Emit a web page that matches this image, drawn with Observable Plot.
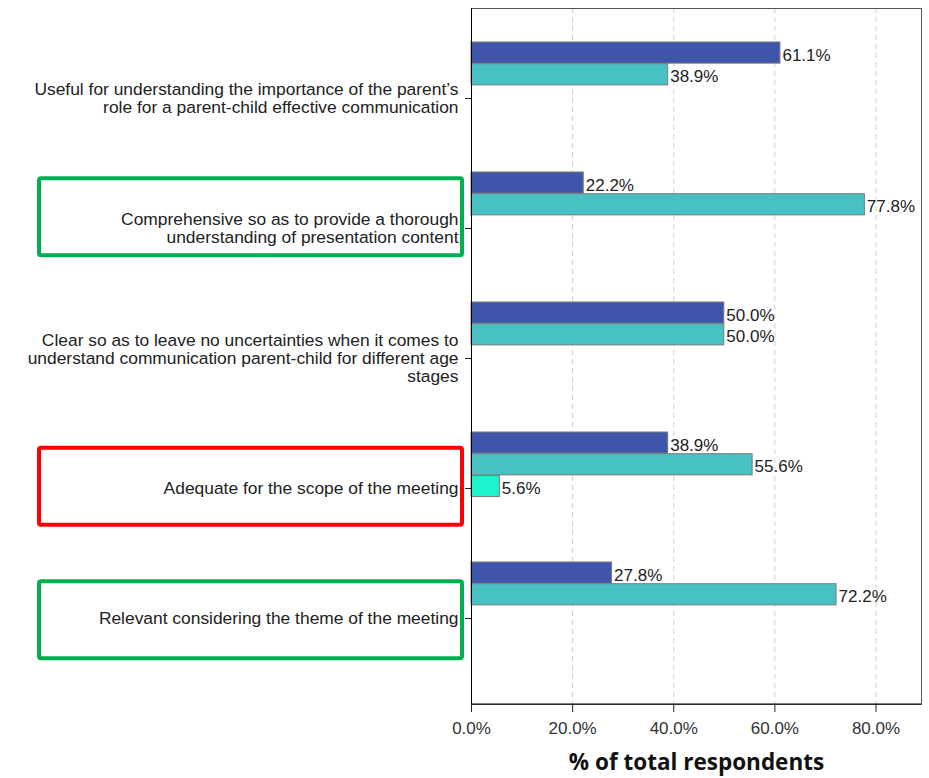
<!DOCTYPE html>
<html>
<head>
<meta charset="utf-8">
<script src="https://cdn.jsdelivr.net/npm/d3@7"></script>
<script src="https://cdn.jsdelivr.net/npm/@observablehq/plot@0.6"></script>
<style>
  html, body { margin: 0; padding: 0; background: #fff; }
  #chart svg { display: block; }
</style>
</head>
<body>
<div id="chart"></div>
<script>
// ---------- data ----------
const categories = [
  "Useful for understanding the importance of the parent’s\nrole for a parent-child effective communication",
  "Comprehensive so as to provide a thorough\nunderstanding of presentation content",
  "Clear so as to leave no uncertainties when it comes to\nunderstand communication parent-child for different age\nstages",
  "Adequate for the scope of the meeting",
  "Relevant considering the theme of the meeting"
];
const seriesNames = ["Strongly agree", "Agree", "Neither agree nor disagree", "Disagree", "Strongly disagree"];
const stronglyAgree = [61.1, 22.2, 50.0, 38.9, 27.8];
const agree         = [38.9, 77.8, 50.0, 55.6, 72.2];
const neutral       = [null, null, null, 5.6, null];
const disagree      = [null, null, null, null, null];
const stronglyDisagree = [null, null, null, null, null];
const seriesValues = [stronglyAgree, agree, neutral, disagree, stronglyDisagree];
const xTicks = [0, 20, 40, 60, 80];
const xLabel = "% of total respondents";
const highlighted = [1, 3, 4];            // category indices with annotation boxes

// ---------- style ----------
const seriesColors = ["#3e55a9", "#48c1c4", "#1cf5cb", "#888888", "#bbbbbb"];
const highlightColors = ["#00b050", "#ff0000", "#00b050"];
const highlightShift = [-9, 0, 3];
const W = 929, H = 778;
const mTop = 8, mBottom = 74, mLeft = 471, mRight = 8;
const padInner = 0.167, padOuter = 0.254;
const font = "'Liberation Sans', Arial, sans-serif";

// table built from arrays
const rows = [];
seriesValues.forEach((vals, s) => vals.forEach((v, c) => {
  if (v != null) rows.push({category: categories[c], series: seriesNames[s], sIndex: s, value: v});
}));

// band geometry replicating Plot's y scale
const yBand = d3.scaleBand().domain(categories).range([mTop, H - mBottom])
  .paddingInner(padInner).paddingOuter(padOuter).align(0.5);
const slot = yBand.bandwidth() / seriesNames.length;

const barMarks = [];
seriesNames.forEach((name, k) => {
  const data = rows.filter(d => d.sIndex === k);
  if (!data.length) return;
  barMarks.push(Plot.barX(data, {
    x: "value", y: "category",
    fill: seriesColors[k], stroke: "#7a7a7a", strokeWidth: 1,
    insetTop: k * slot, insetBottom: (seriesNames.length - 1 - k) * slot
  }));
  barMarks.push(Plot.text(data, {
    x: "value", y: "category",
    text: d => d.value.toFixed(1) + "%",
    textAnchor: "start", dx: 2,
    dy: -yBand.bandwidth() / 2 + (k + 0.5) * slot + 2,
    fill: "#222", fontSize: 17
  }));
});

const plot = Plot.plot({
  width: W, height: H,
  marginTop: mTop, marginBottom: mBottom, marginLeft: mLeft, marginRight: mRight,
  style: {fontFamily: font, fontSize: "17px", color: "#222", background: "#fff"},
  x: {domain: [0, 89]},
  y: {domain: categories, paddingInner: padInner, paddingOuter: padOuter, align: 0.5},
  marks: [
    Plot.ruleX(xTicks.slice(1), {stroke: "#cfcfcf", strokeDasharray: "5,4"}),
    ...barMarks,
    Plot.frame({stroke: "#555"}),
    Plot.ruleX([0], {stroke: "#000"}),
    Plot.axisY({tickSize: 6, tickPadding: 7, label: null, fontSize: 17.4, lineHeight: 1.04, dy: 2, fill: "#222"}),
    Plot.axisX({ticks: xTicks, tickFormat: d => d.toFixed(1) + "%", tickSize: 8, tickPadding: 9, label: null, fontSize: 17, fill: "#333"}),
    Plot.text([xLabel], {frameAnchor: "bottom", dy: 65, fontSize: 22.5, fontWeight: "bold",
      fontFamily: "'Open Sans', 'Noto Sans', sans-serif", fill: "#111"})
  ]
});

// bottom axis line in black
const svg = d3.select(plot);
svg.append("line").attr("x1", mLeft).attr("x2", W - mRight)
  .attr("y1", H - mBottom).attr("y2", H - mBottom).attr("stroke", "#000");

// annotation boxes around highlighted category labels
highlighted.forEach((c, i) => {
  const cy = yBand(categories[c]) + yBand.bandwidth() / 2 + highlightShift[i];
  svg.append("rect")
    .attr("x", 39).attr("y", cy - 38.5)
    .attr("width", 423).attr("height", 77)
    .attr("rx", 2).attr("fill", "none")
    .attr("stroke", highlightColors[i]).attr("stroke-width", 4);
});

document.getElementById("chart").appendChild(plot);
</script>
</body>
</html>
